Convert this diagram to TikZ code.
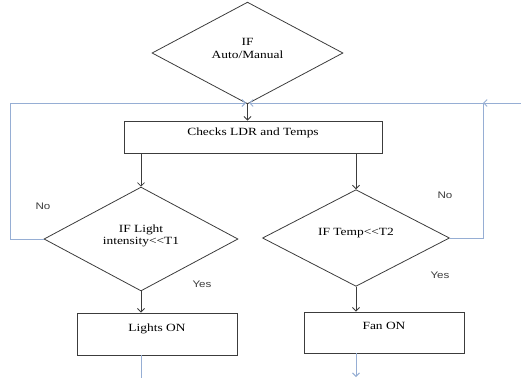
\documentclass[tikz,border=0pt]{standalone}
\usepackage{fontspec}
\setmainfont{Liberation Serif}[FakeStretch=1.22]
\newfontfamily\lblfont{Liberation Sans}[FakeStretch=1.22]
\usetikzlibrary{shapes.geometric,arrows.meta}
\definecolor{lineblack}{RGB}{60,60,60}
\definecolor{loopblue}{RGB}{150,174,212}
\newcommand{\lessless}{\mbox{<}\mbox{<}}
\tikzset{
  dec/.style={diamond, draw=lineblack, line width=0.8pt, inner sep=0pt, align=center,
    font=\fontsize{11}{11.5}\selectfont},
  procbox/.style={rectangle, draw=lineblack, line width=0.9pt, text height=8pt,
    font=\fontsize{11}{12}\selectfont},
  flow/.style={draw=lineblack, line width=0.8pt, -{Straight Barb[length=3.5pt,width=7pt]}},
  loopline/.style={draw=loopblue, line width=0.9pt},
  looparrow/.style={loopline, -{Straight Barb[length=3.5pt,width=7pt]}},
  answer/.style={font=\lblfont\fontsize{9.5}{10}\selectfont, text=lineblack}
}
\begin{document}
\begin{tikzpicture}[x=1pt,y=-1pt]
\useasboundingbox (0,0) rectangle (521,378);
% decisions
\node[dec, minimum width=191pt, minimum height=82pt] (ifam) at (247.5,53)
  {IF\\[2pt]Auto/Manual\\[-2pt]\mbox{}};
\node[dec, minimum width=194pt, minimum height=88pt] (ifl) at (141,239)
  {IF Light\\intensity\lessless T1\\[-3pt]\mbox{}};
\node[dec, minimum width=187pt, minimum height=96pt, text height=8pt, text depth=13pt] (ift) at (356,238)
  {IF Temp\lessless T2};
% process boxes
\node[procbox, minimum width=258pt, minimum height=32pt, text depth=11pt] (chk) at (253,137)
  {Checks LDR and Temps};
\node[procbox, minimum width=160pt, minimum height=42pt, text depth=13pt] (lon) at (157,334)
  {Lights ON};
\node[procbox, minimum width=160pt, minimum height=41pt, text depth=14pt] (fon) at (384,332.5)
  {Fan ON};
% answers
\node[answer] (nol) at (43,206) {No};
\node[answer] (nor) at (445,195) {No};
\node[answer] (yesl) at (202,284) {Yes};
\node[answer] (yesr) at (440,275) {Yes};
% black flow
\draw[flow] (ifam.south) -- (ifam.south |- chk.north);
\draw[flow] (ifl.north |- chk.south) -- (ifl.north);
\draw[flow] (ift.north |- chk.south) -- (ift.north);
\draw[flow] (ifl.south) -- (ifl.south |- lon.north);
\draw[flow] (ift.south) -- (ift.south |- fon.north);
% blue loops
\coordinate (jn) at (247.5,103);
\coordinate (lc1) at (10,239);
\coordinate (lc2) at (10,103);
\coordinate (rc1) at (483,238);
\coordinate (rc2) at (483,103);
\coordinate (rin) at (521,103);
\coordinate (lout) at (141,378);
\coordinate (fout) at (356,377);
\draw[looparrow] (ifl.west) -- (lc1) -- (lc2) -- ([xshift=-1.5pt]jn);
\draw[looparrow] (ift.east) -- (rc1) -- (rc2) -- ([xshift=1.5pt]jn);
\draw[looparrow] (rin) -- (rc2);
\draw[loopline] (lout |- lon.south) -- (lout);
\draw[looparrow] (fout |- fon.south) -- (fout);
\end{tikzpicture}
\end{document}
